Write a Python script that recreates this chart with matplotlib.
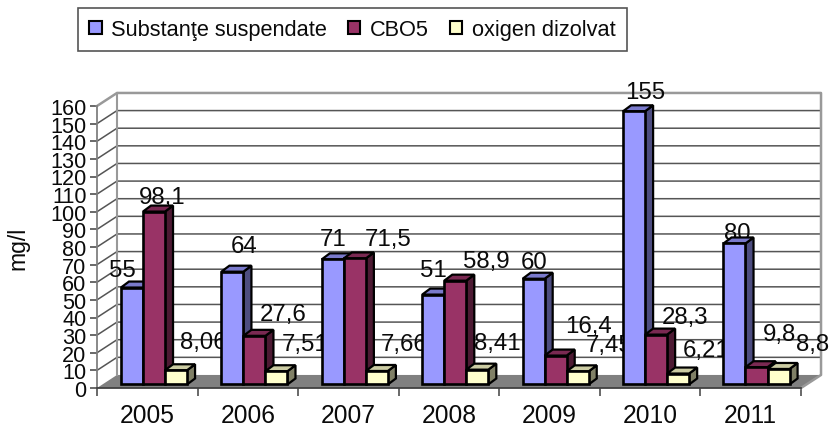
import numpy as np
import matplotlib
matplotlib.use('Agg')
import matplotlib.pyplot as plt
from matplotlib.patches import Patch

plt.rcParams['font.family'] = ['Liberation Sans', 'DejaVu Sans']

years = ['2005', '2006', '2007', '2008', '2009', '2010', '2011']
substante = [55, 64, 71, 51, 60, 155, 80]
cbo5 = [98.1, 27.6, 71.5, 58.9, 16.4, 28.3, 9.8]
oxigen = [8.06, 7.51, 7.66, 8.41, 7.45, 6.21, 8.8]
names = ['Substanţe suspendate', 'CBO5', 'oxigen dizolvat']
yticks = list(range(0, 170, 10))

front = ['#9999FF', '#993366', '#FFFFCC']
side = ['#4D4D80', '#4D1A33', '#808066']
top = ['#7A7ACC', '#7A2952', '#CCCCA3']

# label offsets from the bar's top centre, in pixels (moved by hand in the original)
off_s = [(-10, 18), (12, 26), (0, 20), (0, 25), (0, 17), (11, 19), (3, 10)]
off_c = [(8, 15), (29, 22), (33, 19), (31, 20), (33, 30), (29, 18), (23, 33)]
off_o = [(27, 28), (29, 27), (27, 27), (20, 27), (31, 26), (28, 24), (34, 25)]

W, H = 830, 427
fig = plt.figure(figsize=(W / 100, H / 100), dpi=100)
ax = fig.add_axes([97 / W, 1 - 389 / H, 704 / W, 282 / H])
ax.set_xlim(0, 7)
ax.set_ylim(0, 160)
ax.patch.set_alpha(0)
for s in ['top', 'right']:
    ax.spines[s].set_visible(False)
ax.spines['left'].set_color('#808080')
ax.spines['left'].set_linewidth(1.3)
ax.spines['bottom'].set_color('#404040')
ax.spines['bottom'].set_linewidth(1.3)

# wall depth and bar depth in data units
wx, wy = 0.199, 7.4
bx, by = 0.08, 3.4
lift = 2.0
bar_w = 0.219
start = 0.238

# floor and walls
ax.fill([0, wx, 7 + wx, 7], [0, wy, wy, 0], color='#808080', clip_on=False, zorder=1, lw=0)
for v in yticks[1:-1]:
    ax.plot([0, wx, 7 + wx], [v, v + wy, v + wy], color='#555555', lw=1.1, clip_on=False, zorder=1.5)
ax.plot([0, wx, 7 + wx, 7 + wx, 7], [160, 160 + wy, 160 + wy, wy, 0], color='#999999', lw=1.8,
        clip_on=False, zorder=1.6)
ax.plot([wx, wx], [wy, 160 + wy], color='#999999', lw=1.5, clip_on=False, zorder=1.6)

series = [substante, cbo5, oxigen]
offsets = [off_s, off_c, off_o]

# labels sit behind the bars, some get covered
for k, vals in enumerate(series):
    for i, v in enumerate(vals):
        cx = start + (i * 0.9985) + k * bar_w + bar_w / 2
        ax.annotate(str(v).replace('.', ','), (cx, v + lift), xytext=(offsets[k][i][0] * 0.72, offsets[k][i][1] * 0.72),
                    textcoords='offset points', ha='center', va='center', fontsize=17.3,
                    color='#0a0a0a', zorder=2, annotation_clip=False)

z = 3
for i in range(len(years)):
    for k, vals in enumerate(series):
        v = vals[i]
        x0 = start + i * 0.9985 + k * bar_w
        x1 = x0 + bar_w
        ax.fill([x1, x1 + bx, x1 + bx, x1], [lift, lift + by, lift + v + by, lift + v],
                facecolor=side[k], edgecolor='black', lw=1.6, zorder=z, clip_on=False)
        ax.fill([x0, x0 + bx, x1 + bx, x1], [lift + v, lift + v + by, lift + v + by, lift + v],
                facecolor=top[k], edgecolor='black', lw=1.6, zorder=z, clip_on=False)
        ax.bar(x0, v, bar_w, bottom=lift, align='edge', color=front[k], edgecolor='black',
               lw=1.9, zorder=z + 0.5, clip_on=False)
        z += 1

ax.set_yticks(yticks)
ax.tick_params(axis='y', labelsize=15.6, length=5, width=1.1, color='#404040', pad=2.5, labelcolor='#0a0a0a')
ax.set_xticks(np.arange(0, 8))
ax.set_xticklabels([])
ax.tick_params(axis='x', which='major', length=6, width=1.1, color='#404040')
ax.set_xticks(np.arange(len(years)) + 0.5, minor=True)
ax.set_xticklabels(years, minor=True, fontsize=17.7, color='#0a0a0a')
ax.tick_params(axis='x', which='minor', length=0, pad=11)
fig.text(18 / W, 1 - 248 / H, 'mg/l', rotation=90, ha='center', va='center', fontsize=16.5, color='#0a0a0a')

handles = [Patch(facecolor=front[k], edgecolor='black', lw=1.5) for k in range(3)]
leg = fig.legend(handles, names, ncols=3, loc='center', bbox_to_anchor=(352.5 / W, 1 - 30.5 / H),
                 fontsize=15.7, fancybox=False, framealpha=1, edgecolor='#555555',
                 handlelength=0.57, handleheight=0.57, handletextpad=0.45, columnspacing=0.95,
                 borderpad=0.5, labelcolor='#0a0a0a')
leg.get_frame().set_linewidth(1.2)

fig.savefig('out.png', dpi=100)
